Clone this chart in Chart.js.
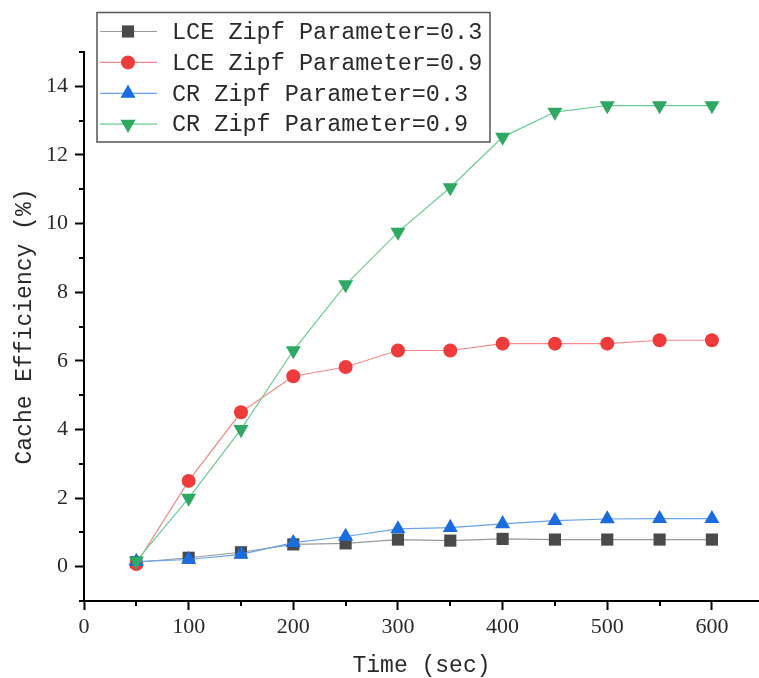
<!DOCTYPE html>
<html>
<head>
<meta charset="utf-8">
<script src="https://cdn.jsdelivr.net/npm/chart.js@4/dist/chart.umd.min.js"></script>
<style>
  html, body { margin: 0; padding: 0; background: #fff; }
  #wrap { width: 759px; height: 678px; position: relative; }
</style>
</head>
<body>
<div id="wrap"><canvas id="chart"></canvas></div>
<script>
// values
const times = [50, 100, 150, 200, 250, 300, 350, 400, 450, 500, 550, 600];
const lceZipf03 = [0.13, 0.26, 0.42, 0.65, 0.68, 0.79, 0.76, 0.81, 0.79, 0.79, 0.79, 0.79];
const lceZipf09 = [0.08, 2.5, 4.5, 5.55, 5.82, 6.3, 6.3, 6.5, 6.5, 6.5, 6.6, 6.6];
const crZipf03 = [0.15, 0.21, 0.36, 0.7, 0.88, 1.1, 1.14, 1.25, 1.34, 1.39, 1.4, 1.4];
const crZipf09 = [0.16, 2.0, 4.0, 6.3, 8.22, 9.75, 11.05, 12.52, 13.25, 13.44, 13.44, 13.44];

const xTicksMajor = [0, 100, 200, 300, 400, 500, 600];
const xTicksMinor = [50, 150, 250, 350, 450, 550];
const yTicksMajor = [0, 2, 4, 6, 8, 10, 12, 14];
const yTicksMinor = [-1, 1, 3, 5, 7, 9, 11, 13, 15];

const MONO = "'Liberation Mono', 'DejaVu Sans Mono', monospace";
const SERIF = "'Liberation Serif', 'DejaVu Serif', serif";

const toPoints = arr => arr.map((v, i) => ({ x: times[i], y: v }));

const datasets = [
  { label: 'LCE Zipf Parameter=0.3', data: toPoints(lceZipf03), borderColor: '#9a9a9a',
    pointBackgroundColor: '#4a4a4a', pointStyle: 'rect', pointRadius: 8.6, pointRotation: 0, order: 4 },
  { label: 'LCE Zipf Parameter=0.9', data: toPoints(lceZipf09), borderColor: '#f28a8a',
    pointBackgroundColor: '#ef3b3b', pointStyle: 'circle', pointRadius: 7, pointRotation: 0, order: 3 },
  { label: 'CR Zipf Parameter=0.3', data: toPoints(crZipf03), borderColor: '#6aa3ea',
    pointBackgroundColor: '#1a6ddf', pointStyle: 'triangle', pointRadius: 8.7, pointRotation: 0, order: 2 },
  { label: 'CR Zipf Parameter=0.9', data: toPoints(crZipf09), borderColor: '#6ccb93',
    pointBackgroundColor: '#2ea862', pointStyle: 'triangle', pointRadius: 8.7, pointRotation: 180, order: 1 }
];
datasets.forEach(d => {
  d.borderWidth = 1.2;
  d.pointBorderWidth = 0;
  d.pointBorderColor = d.pointBackgroundColor;
  d.pointHoverRadius = d.pointRadius;
  d.fill = false;
  d.tension = 0;
});

function drawMarker(ctx, style, r, rot, cx, cy) {
  ctx.beginPath();
  if (style === 'rect') {
    const s = r * Math.SQRT1_2;
    ctx.rect(cx - s, cy - s, 2 * s, 2 * s);
  } else if (style === 'circle') {
    ctx.arc(cx, cy, r, 0, Math.PI * 2);
  } else {
    let a = rot * Math.PI / 180;
    for (let k = 0; k < 3; k++) {
      const px = cx + Math.sin(a) * r, py = cy - Math.cos(a) * r;
      k === 0 ? ctx.moveTo(px, py) : ctx.lineTo(px, py);
      a += 2 * Math.PI / 3;
    }
    ctx.closePath();
  }
  ctx.fill();
}

// minor ticks + boxed legend
const extras = {
  id: 'extras',
  afterDraw(chart) {
    const { ctx, scales: { x, y }, chartArea } = chart;
    ctx.save();
    ctx.strokeStyle = '#000';
    ctx.lineWidth = 2;
    ctx.beginPath();
    yTicksMinor.forEach(v => {
      const py = Math.round(y.getPixelForValue(v));
      ctx.moveTo(chartArea.left - 5, py);
      ctx.lineTo(chartArea.left, py);
    });
    xTicksMinor.forEach(v => {
      const px = Math.round(x.getPixelForValue(v));
      ctx.moveTo(px, chartArea.bottom);
      ctx.lineTo(px, chartArea.bottom + 5);
    });
    ctx.stroke();

    // legend
    ctx.fillStyle = '#fff';
    ctx.fillRect(97, 12.5, 393, 129.5);
    ctx.strokeStyle = '#555';
    ctx.lineWidth = 1.5;
    ctx.strokeRect(97, 12.5, 393, 129.5);
    ctx.font = '23.5px ' + MONO;
    ctx.textBaseline = 'middle';
    chart.data.datasets.forEach((d, i) => {
      const cy = 31.5 + i * 30.9;
      ctx.strokeStyle = d.borderColor;
      ctx.lineWidth = 1.2;
      ctx.beginPath();
      ctx.moveTo(100, cy);
      ctx.lineTo(157, cy);
      ctx.stroke();
      ctx.fillStyle = d.pointBackgroundColor;
      drawMarker(ctx, d.pointStyle, d.pointRadius, d.pointRotation, 128, cy);
      ctx.fillStyle = '#2a2a2a';
      ctx.fillText(d.label, 172, cy + 1);
    });
    ctx.restore();
  }
};

const ctx = document.getElementById('chart').getContext('2d');
const chart = new Chart(ctx, {
  type: 'line',
  data: { datasets },
  plugins: [extras],
  options: {
    responsive: true,
    maintainAspectRatio: false,
    animation: false,
    layout: { autoPadding: false, padding: { top: 52, left: 0, right: 0, bottom: 0 } },
    plugins: { legend: { display: false }, tooltip: { enabled: false } },
    scales: {
      x: {
        type: 'linear',
        min: 0,
        max: 645,
        afterBuildTicks: s => { s.ticks = xTicksMajor.map(v => ({ value: v })); },
        afterFit: s => { s.height = 77; s.paddingLeft = 0; s.paddingRight = 0; },
        border: { color: '#000', width: 2 },
        grid: { drawOnChartArea: false, drawTicks: true, tickLength: 9, tickWidth: 2, tickColor: '#000' },
        ticks: { padding: 4, color: '#2a2a2a', font: { family: SERIF, size: 22 }, maxRotation: 0 },
        title: { display: true, text: 'Time (sec)', color: '#2a2a2a',
                 font: { family: MONO, size: 23, lineHeight: 1 }, padding: { top: 0, bottom: 0.5 } }
      },
      y: {
        type: 'linear',
        min: -1,
        max: 15,
        afterBuildTicks: s => { s.ticks = yTicksMajor.map(v => ({ value: v })); },
        afterFit: s => { s.width = 84; },
        border: { color: '#000', width: 2 },
        grid: { drawOnChartArea: false, drawTicks: true, tickLength: 9, tickWidth: 2, tickColor: '#000' },
        ticks: { padding: 7, color: '#2a2a2a', font: { family: SERIF, size: 22 } },
        title: { display: true, text: 'Cache Efficiency (%)', color: '#2a2a2a',
                 font: { family: MONO, size: 23, lineHeight: 1 }, padding: { top: 13.5, bottom: 0 } }
      }
    }
  }
});
</script>
</body>
</html>
